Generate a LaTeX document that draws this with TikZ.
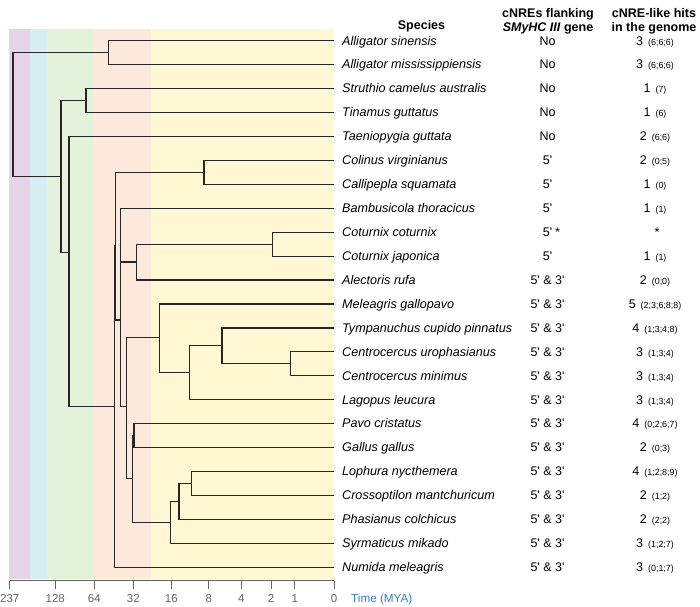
\documentclass[tikz,border=0pt]{standalone}
\usepackage{fontspec}
\setmainfont{Liberation Sans}

\definecolor{bandpurple}{RGB}{230,211,232}
\definecolor{bandblue}{RGB}{214,237,242}
\definecolor{bandgreen}{RGB}{228,242,220}
\definecolor{bandorange}{RGB}{253,232,220}
\definecolor{bandyellow}{RGB}{255,248,210}
\definecolor{axisgray}{RGB}{100,100,100}
\definecolor{timeblue}{RGB}{45,125,210}

\newcommand{\fpr}{\textquotesingle}
\newcommand{\nhits}[2]{#1\hspace{5pt}{\fontsize{8.9}{10}\selectfont(#2)}}

\tikzset{
  branch/.style={line width=1.2pt, color=black!85},
  species/.style={anchor=west, inner xsep=8pt, inner ysep=0pt, text height=8.7pt, text depth=0pt,
    font=\fontsize{12.6}{14}\selectfont\itshape},
  cell/.style={inner sep=0pt, text height=8.6pt, text depth=0pt, font=\fontsize{12.5}{14}\selectfont},
  head/.style={inner sep=0pt, text height=8.6pt, text depth=0pt, font=\fontsize{12.5}{14}\selectfont\bfseries},
  ticklab/.style={inner sep=0pt, text height=8pt, text depth=0pt, text=axisgray, font=\fontsize{11.5}{13}\selectfont},
}

\begin{document}
\begin{tikzpicture}[x=1pt,y=-1pt]
    \useasboundingbox (0,0) rectangle (700,606);

    % time bands
    \fill[bandpurple] (9,29) rectangle (29.5,579);
    \fill[bandblue] (29.5,29) rectangle (47.3,579);
    \fill[bandgreen] (47.3,29) rectangle (92.8,579);
    \fill[bandorange] (92.8,29) rectangle (150.8,579);
    \fill[bandyellow] (150.8,29) rectangle (334,579);

    % headers
    \node[head] (hspec) at (421.5,25) {Species};
    \node[head] (hflank1) at (548,13.5) {cNREs flanking};
    \node[head] (hflank2) at (548,27) {\textit{SMyHC III} gene};
    \node[head] (hhits1) at (654,13.5) {cNRE-like hits};
    \node[head] (hhits2) at (654,27) {in the genome};

    % species
    \node[species] (alsin) at (334,40.7) {Alligator sinensis};
    \node[species] (almis) at (334,64.6) {Alligator mississippiensis};
    \node[species] (strut) at (334,88.6) {Struthio camelus australis};
    \node[species] (tinam) at (334,112.5) {Tinamus guttatus};
    \node[species] (taeni) at (334,136.4) {Taeniopygia guttata};
    \node[species] (colin) at (334,160.4) {Colinus virginianus};
    \node[species] (calli) at (334,184.3) {Callipepla squamata};
    \node[species] (bambu) at (334,208.2) {Bambusicola thoracicus};
    \node[species] (cotco) at (334,232.1) {Coturnix coturnix};
    \node[species] (cotja) at (334,256.1) {Coturnix japonica};
    \node[species] (alect) at (334,280) {Alectoris rufa};
    \node[species] (melea) at (334,303.9) {Meleagris gallopavo};
    \node[species] (tympa) at (334,327.9) {Tympanuchus cupido pinnatus};
    \node[species] (cenur) at (334,351.8) {Centrocercus urophasianus};
    \node[species] (cenmi) at (334,375.7) {Centrocercus minimus};
    \node[species] (lagop) at (334,399.7) {Lagopus leucura};
    \node[species] (pavo) at (334,423.6) {Pavo cristatus};
    \node[species] (gallu) at (334,447.5) {Gallus gallus};
    \node[species] (lophu) at (334,471.4) {Lophura nycthemera};
    \node[species] (cross) at (334,495.4) {Crossoptilon mantchuricum};
    \node[species] (phasi) at (334,519.3) {Phasianus colchicus};
    \node[species] (syrma) at (334,543.2) {Syrmaticus mikado};
    \node[species] (numid) at (334,567.2) {Numida meleagris};

    % cNREs flanking SMyHC III
    \node[cell] (falsin) at (547.5,40.7) {No};
    \node[cell] (falmis) at (547.5,64.6) {No};
    \node[cell] (fstrut) at (547.5,88.6) {No};
    \node[cell] (ftinam) at (547.5,112.5) {No};
    \node[cell] (ftaeni) at (547.5,136.4) {No};
    \node[cell] (fcolin) at (547.5,160.4) {5\fpr};
    \node[cell] (fcalli) at (547.5,184.3) {5\fpr};
    \node[cell] (fbambu) at (547.5,208.2) {5\fpr};
    \node[cell] (fcotco) at (547.5,232.1) {5\fpr\rlap{\hspace{3pt}*}};
    \node[cell] (fcotja) at (547.5,256.1) {5\fpr};
    \node[cell] (falect) at (547.5,280) {5\fpr{} \& 3\fpr};
    \node[cell] (fmelea) at (547.5,303.9) {5\fpr{} \& 3\fpr};
    \node[cell] (ftympa) at (547.5,327.9) {5\fpr{} \& 3\fpr};
    \node[cell] (fcenur) at (547.5,351.8) {5\fpr{} \& 3\fpr};
    \node[cell] (fcenmi) at (547.5,375.7) {5\fpr{} \& 3\fpr};
    \node[cell] (flagop) at (547.5,399.7) {5\fpr{} \& 3\fpr};
    \node[cell] (fpavo) at (547.5,423.6) {5\fpr{} \& 3\fpr};
    \node[cell] (fgallu) at (547.5,447.5) {5\fpr{} \& 3\fpr};
    \node[cell] (flophu) at (547.5,471.4) {5\fpr{} \& 3\fpr};
    \node[cell] (fcross) at (547.5,495.4) {5\fpr{} \& 3\fpr};
    \node[cell] (fphasi) at (547.5,519.3) {5\fpr{} \& 3\fpr};
    \node[cell] (fsyrma) at (547.5,543.2) {5\fpr{} \& 3\fpr};
    \node[cell] (fnumid) at (547.5,567.2) {5\fpr{} \& 3\fpr};

    % cNRE-like hits
    \node[cell] (halsin) at (655,40.7) {\nhits{3}{6;6;6}};
    \node[cell] (halmis) at (655,64.6) {\nhits{3}{6;6;6}};
    \node[cell] (hstrut) at (655,88.6) {\nhits{1}{7}};
    \node[cell] (htinam) at (655,112.5) {\nhits{1}{6}};
    \node[cell] (htaeni) at (655,136.4) {\nhits{2}{6;6}};
    \node[cell] (hcolin) at (655,160.4) {\nhits{2}{0;5}};
    \node[cell] (hcalli) at (655,184.3) {\nhits{1}{0}};
    \node[cell] (hbambu) at (655,208.2) {\nhits{1}{1}};
    \node[cell] (hcotco) at (657,232.1) {*};
    \node[cell] (hcotja) at (655,256.1) {\nhits{1}{1}};
    \node[cell] (halect) at (655,280) {\nhits{2}{0;0}};
    \node[cell] (hmelea) at (655,303.9) {\nhits{5}{2;3;6;8;8}};
    \node[cell] (htympa) at (655,327.9) {\nhits{4}{1;3;4;8}};
    \node[cell] (hcenur) at (655,351.8) {\nhits{3}{1;3;4}};
    \node[cell] (hcenmi) at (655,375.7) {\nhits{3}{1;3;4}};
    \node[cell] (hlagop) at (655,399.7) {\nhits{3}{1;3;4}};
    \node[cell] (hpavo) at (655,423.6) {\nhits{4}{0;2;6;7}};
    \node[cell] (hgallu) at (655,447.5) {\nhits{2}{0;3}};
    \node[cell] (hlophu) at (655,471.4) {\nhits{4}{1;2;8;9}};
    \node[cell] (hcross) at (655,495.4) {\nhits{2}{1;2}};
    \node[cell] (hphasi) at (655,519.3) {\nhits{2}{2;2}};
    \node[cell] (hsyrma) at (655,543.2) {\nhits{3}{1;2;7}};
    \node[cell] (hnumid) at (655,567.2) {\nhits{3}{0;1;7}};

    % tree
    \coordinate (root) at (13,114);
    \coordinate (nall) at (108.3,52.5);
    \coordinate (nbird) at (61,176.7);
    \coordinate (npal) at (86,100.5);
    \coordinate (nneo) at (69,252.3);
    \coordinate (ngal) at (114.5,406.7);
    \coordinate (ngal2) at (115.7,246);
    \coordinate (nodo) at (204,172.4);
    \coordinate (npha) at (120.7,320);
    \coordinate (ncot) at (136.7,262);
    \coordinate (ncotx) at (272.7,244.1);
    \coordinate (npha2) at (126.7,406.7);
    \coordinate (nmel) at (159.3,337.6);
    \coordinate (ntet) at (189.3,372.7);
    \coordinate (ntym) at (222,345.3);
    \coordinate (ncen) at (290.7,363.8);
    \coordinate (npav) at (132.3,478.6);
    \coordinate (npg) at (134,435.6);
    \coordinate (nsyr) at (170.7,522.3);
    \coordinate (nl2) at (179,501.7);
    \coordinate (nl3) at (191.7,483.4);

    \draw[branch] (root) |- (nall);
    \draw[branch] (root) |- (nbird);
    \draw[branch] (nall) |- (alsin.west);
    \draw[branch] (nall) |- (almis.west);
    \draw[branch] (nbird) |- (npal);
    \draw[branch] (nbird) |- (nneo);
    \draw[branch] (npal) |- (strut.west);
    \draw[branch] (npal) |- (tinam.west);
    \draw[branch] (nneo) |- (taeni.west);
    \draw[branch] (nneo) |- (ngal);
    \draw[branch] (ngal) |- (ngal2);
    \draw[branch] (ngal) |- (numid.west);
    \draw[branch] (ngal2) |- (nodo);
    \draw[branch] (ngal2) |- (npha);
    \draw[branch] (nodo) |- (colin.west);
    \draw[branch] (nodo) |- (calli.west);
    \draw[branch] (npha) |- (bambu.west);
    \draw[branch] (npha) |- (ncot);
    \draw[branch] (npha) |- (npha2);
    \draw[branch] (ncot) |- (ncotx);
    \draw[branch] (ncot) |- (alect.west);
    \draw[branch] (ncotx) |- (cotco.west);
    \draw[branch] (ncotx) |- (cotja.west);
    \draw[branch] (npha2) |- (nmel);
    \draw[branch] (npha2) |- (npav);
    \draw[branch] (nmel) |- (melea.west);
    \draw[branch] (nmel) |- (ntet);
    \draw[branch] (ntet) |- (ntym);
    \draw[branch] (ntet) |- (lagop.west);
    \draw[branch] (ntym) |- (tympa.west);
    \draw[branch] (ntym) |- (ncen);
    \draw[branch] (ncen) |- (cenur.west);
    \draw[branch] (ncen) |- (cenmi.west);
    \draw[branch] (npav) |- (npg);
    \draw[branch] (npav) |- (nsyr);
    \draw[branch] (npg) |- (pavo.west);
    \draw[branch] (npg) |- (gallu.west);
    \draw[branch] (nsyr) |- (nl2);
    \draw[branch] (nsyr) |- (syrma.west);
    \draw[branch] (nl2) |- (nl3);
    \draw[branch] (nl2) |- (phasi.west);
    \draw[branch] (nl3) |- (lophu.west);
    \draw[branch] (nl3) |- (cross.west);

    % time axis
    \draw[axisgray, line width=0.9pt] (9.7,580.8) -- (334,580.8);
    \draw[axisgray, line width=0.9pt] (9.7,580.8) -- (9.7,588.5);
    \draw[axisgray, line width=0.9pt] (55.3,580.8) -- (55.3,588.5);
    \draw[axisgray, line width=0.9pt] (94.3,580.8) -- (94.3,588.5);
    \draw[axisgray, line width=0.9pt] (133.3,580.8) -- (133.3,588.5);
    \draw[axisgray, line width=0.9pt] (171.3,580.8) -- (171.3,588.5);
    \draw[axisgray, line width=0.9pt] (208.7,580.8) -- (208.7,588.5);
    \draw[axisgray, line width=0.9pt] (241.3,580.8) -- (241.3,588.5);
    \draw[axisgray, line width=0.9pt] (271,580.8) -- (271,588.5);
    \draw[axisgray, line width=0.9pt] (294.7,580.8) -- (294.7,588.5);
    \draw[axisgray, line width=0.9pt] (334,580.8) -- (334,588.5);
    \node[ticklab] (t237) at (9.7,598.5) {237};
    \node[ticklab] (t128) at (55.3,598.5) {128};
    \node[ticklab] (t64) at (94.3,598.5) {64};
    \node[ticklab] (t32) at (133.3,598.5) {32};
    \node[ticklab] (t16) at (171.3,598.5) {16};
    \node[ticklab] (t8) at (208.7,598.5) {8};
    \node[ticklab] (t4) at (241.3,598.5) {4};
    \node[ticklab] (t2) at (271,598.5) {2};
    \node[ticklab] (t1) at (294.7,598.5) {1};
    \node[ticklab] (t0) at (334,598.5) {0};
    \node[ticklab, text=timeblue, anchor=west, font=\fontsize{11.7}{13}\selectfont] (tlabel) at (351,598.5) {Time (MYA)};
\end{tikzpicture}
\end{document}
